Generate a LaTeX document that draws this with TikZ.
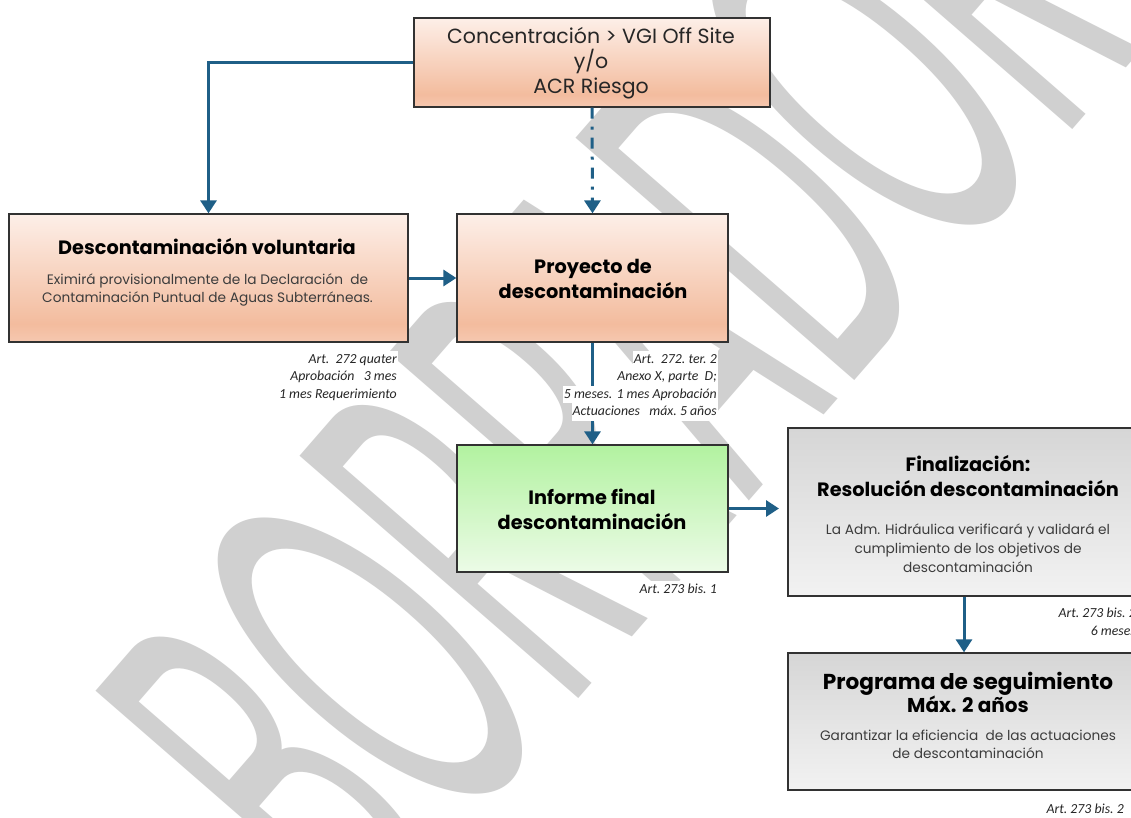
\documentclass[tikz,border=0pt]{standalone}
\usepackage{fontspec}
\usepackage{graphicx}
\setmainfont{Poppins}
\newfontfamily\lblfont{Carlito}
\usetikzlibrary{arrows.meta}
\definecolor{arrowc}{RGB}{31,95,135}
\definecolor{wmc}{RGB}{208,208,208}
\definecolor{bordc}{RGB}{50,50,50}
\definecolor{bodyc}{RGB}{60,60,60}
\definecolor{salTop}{RGB}{253,239,232}
\definecolor{salMid}{RGB}{243,188,158}
\definecolor{salBot}{RGB}{246,200,176}
\definecolor{grnTop}{RGB}{178,242,160}
\definecolor{grnBot}{RGB}{236,251,231}
\definecolor{gryTop}{RGB}{214,214,214}
\definecolor{gryBot}{RGB}{242,242,242}
\pgfdeclareverticalshading{salmonsh}{100bp}{color(0bp)=(salBot); color(25bp)=(salBot); color(32bp)=(salMid); color(75bp)=(salTop); color(100bp)=(salTop)}
\pgfdeclareverticalshading{greensh}{100bp}{color(0bp)=(grnBot); color(25bp)=(grnBot); color(75bp)=(grnTop); color(100bp)=(grnTop)}
\pgfdeclareverticalshading{graysh}{100bp}{color(0bp)=(gryBot); color(25bp)=(gryBot); color(75bp)=(gryTop); color(100bp)=(gryTop)}
\tikzset{
  box/.style={draw=bordc, line width=1.3pt, inner sep=0pt, shade},
  salbox/.style={box, shading=salmonsh},
  grnbox/.style={box, shading=greensh},
  grybox/.style={box, shading=graysh},
  titlet/.style={font=\bfseries\fontsize{19.3}{21}\selectfont, anchor=base, inner sep=0pt, text=black},
  bigtitlet/.style={font=\bfseries\fontsize{21.6}{23}\selectfont, anchor=base, inner sep=0pt, text=black},
  midtitlet/.style={font=\bfseries\fontsize{20}{22}\selectfont, anchor=base, inner sep=0pt, text=black},
  regt/.style={font=\fontsize{20.5}{22}\selectfont, anchor=base, inner sep=0pt, text=black!85},
  bodyt/.style={font=\fontsize{13.7}{15}\selectfont, anchor=base, inner sep=0pt, text=bodyc},
  lbl/.style={font=\lblfont\itshape\fontsize{13.8}{15}\selectfont, anchor=base east, inner xsep=1pt, inner ysep=2.2pt, text height=10pt, text depth=3pt, fill=white, text=black!85},
  conn/.style={draw=arrowc, line width=3pt, -{Triangle[width=16pt,length=13pt]}},
  dashconn/.style={conn, dash pattern=on 11pt off 8pt on 3pt off 8pt},
}
\begin{document}
\begin{tikzpicture}[x=1pt,y=-1pt]
\clip (0,0) rectangle (1131,817);
\fill[white] (0,0) rectangle (1131,817);
% watermark
\node[rotate=49, text=wmc, inner sep=0pt] (wm) at (617,372) {\fontsize{530}{530}\selectfont\scalebox{0.42}[1]{BORRADOR}};
% boxes
\node[salbox, minimum width=356pt, minimum height=89pt] (top) at (592,62.5) {};
\node[salbox, minimum width=399pt, minimum height=128pt] (desc) at (208.5,278) {};
\node[salbox, minimum width=271pt, minimum height=128pt] (proy) at (592.5,278) {};
\node[grnbox, minimum width=271pt, minimum height=127pt] (inf) at (592.5,508.5) {};
\node[grybox, minimum width=352pt, minimum height=168pt] (fin) at (964,512) {};
\node[grybox, minimum width=352pt, minimum height=137pt] (prog) at (964,721.5) {};
% texts
\node[regt] (topA) at (591,43) {Concentración > VGI Off Site};
\node[regt] (topB) at (591,68) {y/o};
\node[regt] (topC) at (591,93) {ACR Riesgo};
\node[titlet] (descT) at (207,254) {Descontaminación voluntaria};
\node[bodyt] (descA) at (207.5,284) {Eximirá provisionalmente de la Declaración\ \ de};
\node[bodyt] (descB) at (207.5,302) {Contaminación Puntual de Aguas Subterráneas.};
\node[titlet] (proyA) at (593,273) {Proyecto de};
\node[titlet] (proyB) at (593,298) {descontaminación};
\node[titlet] (infA) at (592,504) {Informe final};
\node[titlet] (infB) at (592,529) {descontaminación};
\node[titlet] (finA) at (968,471) {Finalización:};
\node[titlet] (finB) at (968,496) {Resolución descontaminación};
\node[bodyt] (finC) at (968,534) {La Adm. Hidráulica verificará y validará el};
\node[bodyt] (finD) at (968,553) {cumplimiento de los objetivos de};
\node[bodyt] (finE) at (968,572) {descontaminación};
\node[bigtitlet] (progA) at (968,689) {Programa de seguimiento};
\node[midtitlet] (progB) at (968,712) {Máx. 2 años};
\node[bodyt] (progC) at (968,740) {Garantizar la eficiencia\ \ de las actuaciones};
\node[bodyt] (progD) at (968,758) {de descontaminación};
% connectors
\coordinate (finin) at (779,508.5);
\draw[conn] (top.west) -| (desc.north);
\draw[dashconn] (top.south) -- (proy.north);
\draw[conn] (desc.east) -- (proy.west);
\draw[conn] (proy.south) -- (inf.north);
\draw[conn] (inf.east) -- (finin);
\draw[conn] (fin.south) -- (prog.north);
% labels
\node[lbl] (l1a) at (398,363) {Art.\ \ 272 quater};
\node[lbl] (l1b) at (398,380.5) {Aprobación\ \ \ 3 mes};
\node[lbl] (l1c) at (398,398) {1 mes Requerimiento};
\node[lbl] (l2a) at (718,363) {Art.\ \ 272.\ ter.\ 2};
\node[lbl] (l2b) at (718,380.5) {Anexo X, parte\ \ D;};
\node[lbl] (l2c) at (718,398) {5 meses. 1 mes Aprobación};
\node[lbl] (l2d) at (718,415.5) {Actuaciones\ \ \ máx.\ 5 años};
\node[lbl] (l3a) at (718,593) {Art.\ 273 bis.\ 1};
\node[lbl] (l4a) at (1137,617) {Art.\ 273 bis.\ 2};
\node[lbl] (l4b) at (1137,635) {6 meses};
\node[lbl] (l5a) at (1125,813) {Art.\ 273 bis.\ 2};
\end{tikzpicture}
\end{document}
